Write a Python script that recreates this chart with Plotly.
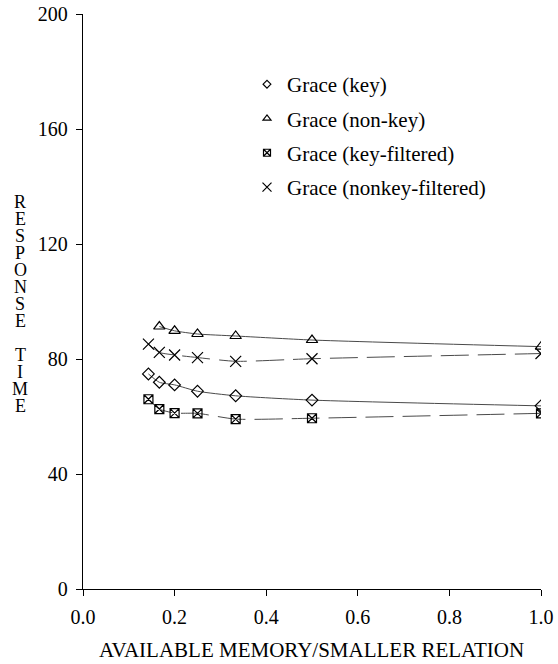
import plotly.graph_objects as go

# ---- data ----
x_key = [1/7, 1/6, 1/5, 1/4, 1/3, 1/2, 1.0]
y_key = [74.8, 71.9, 71.0, 68.8, 67.2, 65.7, 63.7]

x_nonkey = [1/6, 1/5, 1/4, 1/3, 1/2, 1.0]
y_nonkey = [91.3, 89.8, 88.7, 88.0, 86.6, 84.3]

x_keyf = [1/7, 1/6, 1/5, 1/4, 1/3, 1/2, 1.0]
y_keyf = [66.0, 62.6, 61.2, 61.1, 59.1, 59.4, 61.1]

x_nonkeyf = [1/7, 1/6, 1/5, 1/4, 1/3, 1/2, 1.0]
y_nonkeyf = [85.2, 82.3, 81.4, 80.5, 79.2, 80.1, 81.9]

series_names = ["Grace (key)", "Grace (non-key)", "Grace (key-filtered)", "Grace (nonkey-filtered)"]
x_ticks = [0.0, 0.2, 0.4, 0.6, 0.8, 1.0]
y_ticks = [0, 40, 80, 120, 160, 200]
x_title = "AVAILABLE MEMORY/SMALLER RELATION"
y_title = "RESPONSE TIME"

FONT = "Liberation Serif"
LINE_COLOR = "#4a4a4a"
DASH = "28px,9px"

W, H = 558, 664
ML, MR, MT, MB = 83, 17, 14, 75
PW, PH = W - ML - MR, H - MT - MB

fig = go.Figure()

specs = [
    (x_key, y_key, "diamond-open", 9, 6, "solid"),
    (x_nonkey, y_nonkey, "triangle-up-open", 10, 7, "solid"),
    (x_keyf, y_keyf, "square-x-open", 9, 7, DASH),
    (x_nonkeyf, y_nonkeyf, "x-thin-open", 11, 9, DASH),
]

for (xs, ys, sym, msize, lsize, dash), name in zip(specs, series_names):
    fig.add_trace(go.Scatter(
        x=xs, y=ys, mode="lines+markers", showlegend=False,
        line=dict(color=LINE_COLOR, width=1, dash=dash, shape="spline", smoothing=0.6),
        marker=dict(symbol=sym, size=msize, color="black", line=dict(color="black", width=1.2)),
    ))

for (xs, ys, sym, msize, lsize, dash), name in zip(specs, series_names):
    fig.add_trace(go.Scatter(
        x=[None], y=[None], mode="markers", name=name, legendgroup=name,
        marker=dict(symbol=sym, size=lsize, color="black", line=dict(color="black", width=1.2)),
    ))

# stacked y-title letters
y0 = 202
step = 17
for i, ch in enumerate(y_title):
    if ch == " ":
        continue
    py = y0 + step * i
    fig.add_annotation(
        text=ch, xref="paper", yref="paper",
        x=(20 - ML) / PW, y=(MT + PH - py) / PH,
        xanchor="center", yanchor="middle", showarrow=False,
        font=dict(family=FONT, size=18, color="black"),
    )

fig.add_annotation(
    text=x_title, xref="paper", yref="paper",
    x=(311 - ML) / PW, y=-(650 - (MT + PH)) / PH, xanchor="center", yanchor="middle",
    showarrow=False, font=dict(family=FONT, size=21, color="black"),
)

fig.update_layout(
    template="none",
    width=W, height=H,
    margin=dict(l=ML, r=MR, t=MT, b=MB, pad=0),
    paper_bgcolor="white", plot_bgcolor="white",
    font=dict(family=FONT, size=20, color="black"),
    legend=dict(
        x=(247 - ML) / PW, y=(MT + PH - 64) / PH, xanchor="left", yanchor="top",
        bgcolor="rgba(0,0,0,0)", borderwidth=0,
        font=dict(family=FONT, size=21, color="black"),
        tracegroupgap=4, traceorder="grouped",
    ),
    xaxis=dict(
        range=[0, 1], tickvals=x_ticks, ticktext=[f"{v:.1f}" for v in x_ticks],
        automargin=False,
        showgrid=False, zeroline=False, showline=True, linecolor="black", linewidth=1.3,
        ticks="outside", ticklen=6, tickcolor="black", tickwidth=1.3,
        tickfont=dict(family=FONT, size=20, color="black"),
        ticklabelstandoff=4,
    ),
    yaxis=dict(
        range=[0, 200], tickvals=y_ticks, automargin=False,
        showgrid=False, zeroline=False, showline=True, linecolor="black", linewidth=1.3,
        ticks="outside", ticklen=6, tickcolor="black", tickwidth=1.3,
        tickfont=dict(family=FONT, size=20, color="black"),
        ticklabelstandoff=4,
    ),
)

fig.write_html("out.html")
